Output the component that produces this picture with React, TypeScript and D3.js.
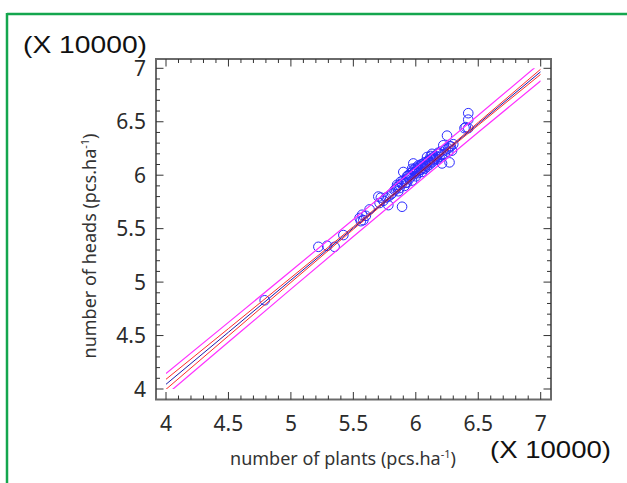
import React from "react";
import * as d3 from "d3";

// observed points: number of plants vs number of heads (x 10000)
const plants = [
  4.79, 5.22, 5.29, 5.35, 5.42, 5.55, 5.57, 5.58, 5.56, 5.6, 5.63, 5.7, 5.72, 5.71, 5.74,
  5.78, 5.78, 5.81, 5.83, 5.85, 5.86, 5.87, 5.89, 5.88, 5.9, 5.91, 5.92, 5.93, 5.94, 5.95,
  5.96, 5.97, 5.98, 5.99, 6.0, 6.0, 6.01, 6.02, 6.03, 6.04, 6.05, 6.06, 6.07, 6.08, 6.09,
  6.1, 6.11, 6.12, 6.13, 6.14, 6.15, 6.16, 6.17, 6.18, 6.19, 6.2, 6.21, 6.22, 6.23, 6.25,
  6.26, 6.27, 6.28, 6.29, 6.3, 6.39, 6.4, 6.42, 6.42, 6.42, 6.02, 5.97, 6.07, 5.93, 6.13,
  5.98, 6.09, 6.27, 5.85, 5.84, 5.87, 5.9, 5.92, 5.95, 5.96, 5.99, 6.01, 6.03, 6.04, 6.06,
  6.08, 6.1, 6.11, 6.14, 6.16, 6.18, 6.21, 6.24, 6.26, 5.76, 5.8, 5.89, 6.0, 6.05, 6.12,
];
const heads = [
  4.83, 5.33, 5.34, 5.33, 5.44, 5.6, 5.63, 5.58, 5.57, 5.62, 5.68, 5.8, 5.79, 5.74, 5.76,
  5.72, 5.8, 5.83, 5.86, 5.89, 5.85, 5.91, 5.705, 5.94, 6.03, 5.9, 5.96, 5.93, 6.0, 5.97,
  6.02, 5.95, 6.05, 6.01, 6.07, 5.99, 6.04, 6.02, 6.08, 6.05, 6.03, 6.09, 6.06, 6.11, 6.08,
  6.13, 6.1, 6.15, 6.12, 6.17, 6.14, 6.18, 6.15, 6.2, 6.17, 6.22, 6.11, 6.28, 6.2, 6.37,
  6.25, 6.12, 6.27, 6.23, 6.29, 6.44, 6.45, 6.44, 6.52, 6.58, 6.09, 6.06, 6.12, 5.99, 6.2,
  6.11, 6.17, 6.27, 5.91, 5.87, 5.88, 5.95, 5.93, 6.0, 5.99, 6.03, 6.06, 6.05, 6.1, 6.07,
  6.09, 6.14, 6.12, 6.15, 6.16, 6.21, 6.19, 6.24, 6.22, 5.79, 5.82, 5.92, 6.03, 6.1, 6.18,
];

// fitted line with confidence / prediction half widths
const fitX = [4, 4.5, 5, 5.5, 6, 6.5, 7];
const fitY = [4.044, 4.531, 5.019, 5.506, 5.993, 6.481, 6.968];
const confHalf = [0.047, 0.034, 0.022, 0.012, 0.006, 0.013, 0.024];
const predHalf = [0.1, 0.092, 0.085, 0.08, 0.078, 0.08, 0.085];

const xTicks = [4, 4.5, 5, 5.5, 6, 6.5, 7];
const yTicks = [4, 4.5, 5, 5.5, 6, 6.5, 7];

export default function App() {
  const x = d3.scaleLinear().domain([4, 7]).range([166, 540.7]);
  const y = d3.scaleLinear().domain([4, 7]).range([389, 68.3]);
  const frame = { left: 156, right: 551, top: 59, bottom: 399.5 };
  const minor = d3.range(40, 71).map((v) => v / 10);

  const line = d3
    .line<[number, number]>()
    .x((d) => x(d[0]))
    .y((d) => y(d[1]))
    .curve(d3.curveNatural);

  const band = (offs: number[], sign: number) =>
    line(fitX.map((v, i) => [v, fitY[i] + sign * offs[i]] as [number, number])) || "";

  const tickFont = "'Noto Sans', sans-serif";
  const tickColor = "#2b2b2b";

  return (
    <svg
      width={627}
      height={483}
      style={{ position: "absolute", left: 0, top: 0, background: "#fff" }}
    >
      {/* green page border */}
      <line x1={7} x2={627} y1={14} y2={14} stroke="#14a64e" strokeWidth={2.5} />
      <line x1={7} x2={7} y1={13} y2={483} stroke="#14a64e" strokeWidth={2.5} />

      <defs>
        <clipPath id="plotArea">
          <rect x={x(4)} y={y(7)} width={x(7) - x(4)} height={y(4) - y(7)} />
        </clipPath>
      </defs>

      {/* points */}
      {plants.map((p, i) => (
        <circle
          key={i}
          cx={x(p)}
          cy={y(heads[i])}
          r={4.8}
          fill="none"
          stroke="#2b2bff"
          strokeWidth={1}
        />
      ))}

      {/* regression + bands */}
      <g clipPath="url(#plotArea)" fill="none">
        <path d={band(predHalf, 1)} stroke="#ff30ff" strokeWidth={1.2} />
        <path d={band(predHalf, -1)} stroke="#ff30ff" strokeWidth={1.2} />
        <path d={band(confHalf, 1)} stroke="#ff2a2a" strokeWidth={1} />
        <path d={band(confHalf, -1)} stroke="#ff2a2a" strokeWidth={1} />
        <path d={band(confHalf, 0)} stroke="#1c1caa" strokeWidth={1} />
      </g>

      {/* frame */}
      <rect
        x={frame.left}
        y={frame.top}
        width={frame.right - frame.left}
        height={frame.bottom - frame.top}
        fill="none"
        stroke="#6a6a6a"
        strokeWidth={2}
      />

      {/* ticks on all four sides */}
      <g stroke="#333" strokeWidth={1}>
        {minor.map((v) => {
          const major = Math.abs(v * 2 - Math.round(v * 2)) < 1e-6;
          const len = major ? 7.5 : 4;
          return (
            <g key={v}>
              <line x1={x(v)} x2={x(v)} y1={frame.bottom} y2={frame.bottom - len} />
              <line x1={x(v)} x2={x(v)} y1={frame.top} y2={frame.top + len} />
              <line x1={frame.left} x2={frame.left + len} y1={y(v)} y2={y(v)} />
              <line x1={frame.right} x2={frame.right - len} y1={y(v)} y2={y(v)} />
            </g>
          );
        })}
      </g>

      {/* tick labels */}
      <g fontFamily={tickFont} fontSize={21} fill={tickColor}>
        {xTicks.map((v) => (
          <text key={v} x={x(v)} y={430.5} textAnchor="middle">
            {v}
          </text>
        ))}
        {yTicks.map((v) => (
          <text key={v} x={146} y={y(v) + 7.5} textAnchor="end">
            {v}
          </text>
        ))}
      </g>

      {/* axis titles */}
      <text
        x={343}
        y={465}
        textAnchor="middle"
        fontFamily={tickFont}
        fontSize={18}
        fill="#333"
      >
        number of plants (pcs.ha
        <tspan fontSize={11} dy={-7}>
          -1
        </tspan>
        <tspan dy={7}>)</tspan>
      </text>
      <text
        transform={`translate(96,246) rotate(-90)`}
        textAnchor="middle"
        fontFamily={tickFont}
        fontSize={18}
        fill="#333"
      >
        number of heads (pcs.ha
        <tspan fontSize={11} dy={-7}>
          -1
        </tspan>
        <tspan dy={7}>)</tspan>
      </text>

      {/* scale multipliers */}
      <text
        x={23}
        y={53}
        fontFamily="'Liberation Sans', Arial, sans-serif"
        fontSize={24}
        fill="#111"
        textLength={124}
        lengthAdjust="spacingAndGlyphs"
      >
        (X 10000)
      </text>
      <text
        x={490}
        y={458}
        fontFamily="'Liberation Sans', Arial, sans-serif"
        fontSize={24}
        fill="#111"
        textLength={121}
        lengthAdjust="spacingAndGlyphs"
      >
        (X 10000)
      </text>
    </svg>
  );
}
